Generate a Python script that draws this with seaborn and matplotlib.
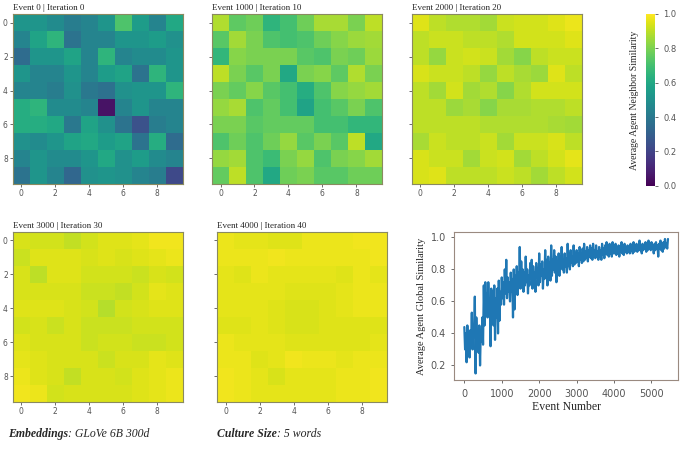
import numpy as np
import matplotlib
matplotlib.use("Agg")
import matplotlib.pyplot as plt
import seaborn as sns

sns.set_theme(style="white")
plt.rcParams["font.family"] = ["DejaVu Sans"]

SERIF = "Liberation Serif"
TICK_COLOR = "#555555"

# --- data: neighbour similarity grids (10x10) at five snapshots ---
titles = ["Event 0 | Iteration 0", "Event 1000 | Iteration 10", "Event 2000 | Iteration 20",
          "Event 3000 | Iteration 30", "Event 4000 | Iteration 40"]

grid_0 = [
    [0.52, 0.52, 0.48, 0.42, 0.45, 0.52, 0.72, 0.55, 0.45, 0.60],
    [0.45, 0.58, 0.65, 0.38, 0.45, 0.45, 0.52, 0.52, 0.55, 0.50],
    [0.35, 0.52, 0.52, 0.58, 0.45, 0.65, 0.45, 0.48, 0.48, 0.52],
    [0.52, 0.45, 0.45, 0.52, 0.45, 0.55, 0.58, 0.38, 0.65, 0.52],
    [0.45, 0.45, 0.42, 0.50, 0.40, 0.37, 0.50, 0.52, 0.52, 0.65],
    [0.62, 0.65, 0.48, 0.48, 0.45, 0.05, 0.45, 0.52, 0.45, 0.45],
    [0.62, 0.62, 0.60, 0.40, 0.58, 0.50, 0.38, 0.25, 0.42, 0.45],
    [0.50, 0.48, 0.52, 0.58, 0.60, 0.55, 0.58, 0.38, 0.62, 0.35],
    [0.45, 0.52, 0.48, 0.48, 0.52, 0.60, 0.50, 0.55, 0.48, 0.45],
    [0.38, 0.52, 0.45, 0.33, 0.50, 0.52, 0.50, 0.45, 0.42, 0.22],
]
grid_1000 = [
    [0.88, 0.75, 0.78, 0.65, 0.70, 0.78, 0.87, 0.87, 0.80, 0.90],
    [0.74, 0.86, 0.80, 0.72, 0.70, 0.72, 0.78, 0.82, 0.85, 0.86],
    [0.66, 0.82, 0.80, 0.80, 0.80, 0.74, 0.72, 0.80, 0.78, 0.85],
    [0.90, 0.80, 0.74, 0.80, 0.60, 0.80, 0.82, 0.75, 0.88, 0.80],
    [0.80, 0.76, 0.82, 0.74, 0.70, 0.62, 0.72, 0.82, 0.84, 0.86],
    [0.84, 0.87, 0.72, 0.76, 0.70, 0.58, 0.70, 0.74, 0.80, 0.72],
    [0.80, 0.80, 0.74, 0.76, 0.76, 0.76, 0.70, 0.70, 0.66, 0.66],
    [0.72, 0.78, 0.72, 0.78, 0.84, 0.74, 0.80, 0.74, 0.90, 0.60],
    [0.84, 0.86, 0.72, 0.68, 0.80, 0.84, 0.72, 0.80, 0.82, 0.86],
    [0.76, 0.90, 0.72, 0.60, 0.78, 0.80, 0.74, 0.74, 0.78, 0.78],
]
grid_2000 = [
    [0.95, 0.90, 0.88, 0.88, 0.86, 0.92, 0.93, 0.93, 0.95, 0.97],
    [0.90, 0.92, 0.92, 0.90, 0.90, 0.88, 0.93, 0.93, 0.93, 0.95],
    [0.90, 0.84, 0.92, 0.93, 0.92, 0.86, 0.82, 0.90, 0.92, 0.92],
    [0.94, 0.92, 0.92, 0.90, 0.84, 0.90, 0.87, 0.85, 0.95, 0.90],
    [0.90, 0.86, 0.93, 0.86, 0.88, 0.82, 0.88, 0.93, 0.93, 0.93],
    [0.90, 0.90, 0.85, 0.87, 0.82, 0.87, 0.87, 0.88, 0.88, 0.90],
    [0.90, 0.90, 0.90, 0.90, 0.88, 0.88, 0.88, 0.88, 0.87, 0.86],
    [0.87, 0.92, 0.90, 0.90, 0.92, 0.86, 0.92, 0.92, 0.94, 0.90],
    [0.94, 0.92, 0.92, 0.86, 0.92, 0.93, 0.86, 0.90, 0.93, 0.96],
    [0.94, 0.95, 0.90, 0.90, 0.90, 0.92, 0.90, 0.86, 0.90, 0.93],
]
grid_3000 = [
    [0.94, 0.93, 0.93, 0.91, 0.93, 0.95, 0.95, 0.96, 0.98, 0.98],
    [0.92, 0.95, 0.95, 0.95, 0.94, 0.95, 0.94, 0.95, 0.96, 0.97],
    [0.94, 0.90, 0.95, 0.95, 0.93, 0.93, 0.93, 0.92, 0.94, 0.93],
    [0.94, 0.94, 0.94, 0.94, 0.92, 0.92, 0.91, 0.93, 0.96, 0.95],
    [0.95, 0.95, 0.95, 0.94, 0.93, 0.89, 0.93, 0.94, 0.95, 0.95],
    [0.93, 0.94, 0.92, 0.94, 0.92, 0.92, 0.92, 0.93, 0.93, 0.93],
    [0.95, 0.94, 0.94, 0.94, 0.92, 0.93, 0.93, 0.92, 0.92, 0.93],
    [0.96, 0.95, 0.94, 0.94, 0.94, 0.92, 0.94, 0.94, 0.96, 0.95],
    [0.97, 0.95, 0.94, 0.91, 0.94, 0.94, 0.93, 0.95, 0.96, 0.97],
    [0.98, 0.97, 0.93, 0.94, 0.94, 0.94, 0.94, 0.95, 0.96, 0.97],
]
grid_4000 = [
    [0.97, 0.96, 0.96, 0.95, 0.95, 0.97, 0.97, 0.97, 0.98, 0.98],
    [0.97, 0.97, 0.97, 0.98, 0.97, 0.97, 0.97, 0.97, 0.97, 0.98],
    [0.96, 0.95, 0.97, 0.96, 0.96, 0.96, 0.96, 0.95, 0.97, 0.96],
    [0.96, 0.96, 0.96, 0.96, 0.95, 0.95, 0.95, 0.96, 0.97, 0.97],
    [0.96, 0.96, 0.96, 0.95, 0.94, 0.94, 0.95, 0.96, 0.97, 0.97],
    [0.95, 0.95, 0.96, 0.95, 0.94, 0.94, 0.95, 0.95, 0.95, 0.95],
    [0.97, 0.96, 0.96, 0.96, 0.95, 0.95, 0.95, 0.95, 0.95, 0.96],
    [0.97, 0.97, 0.95, 0.96, 0.98, 0.97, 0.97, 0.96, 0.97, 0.97],
    [0.98, 0.97, 0.96, 0.94, 0.96, 0.96, 0.96, 0.97, 0.97, 0.98],
    [0.98, 0.97, 0.96, 0.96, 0.96, 0.96, 0.96, 0.97, 0.97, 0.98],
]
grids = [grid_0, grid_1000, grid_2000, grid_3000, grid_4000]

# --- data: global similarity, sampled every 20 events ---
event_step = 20
global_sim = [
    0.44, 0.30, 0.40, 0.22, 0.45, 0.33, 0.38, 0.25, 0.42, 0.35,
    0.53, 0.30, 0.45, 0.38, 0.63, 0.15, 0.50, 0.32, 0.40, 0.28,
    0.45, 0.20, 0.42, 0.35, 0.50, 0.33, 0.70, 0.45, 0.72, 0.55,
    0.65, 0.50, 0.72, 0.58, 0.62, 0.32, 0.68, 0.55, 0.66, 0.45,
    0.70, 0.36, 0.62, 0.50, 0.68, 0.40, 0.73, 0.48, 0.66, 0.58,
    0.75, 0.62, 0.72, 0.58, 0.80, 0.65, 0.86, 0.62, 0.75, 0.66,
    0.72, 0.60, 0.78, 0.66, 0.74, 0.50, 0.80, 0.55, 0.76, 0.68,
    0.82, 0.64, 0.78, 0.70, 0.94, 0.68, 0.85, 0.72, 0.80, 0.66,
    0.78, 0.70, 0.88, 0.72, 0.80, 0.65, 0.76, 0.70, 0.84, 0.74,
    0.86, 0.68, 0.82, 0.74, 0.78, 0.66, 0.84, 0.75, 0.80, 0.70,
    0.90, 0.72, 0.83, 0.76, 0.85, 0.68, 0.80, 0.74, 0.92, 0.76,
    0.86, 0.70, 0.88, 0.78, 0.84, 0.73, 0.95, 0.76, 0.86, 0.80,
    0.92, 0.78, 0.88, 0.72, 0.85, 0.80, 0.90, 0.76, 0.88, 0.82,
    0.94, 0.80, 0.86, 0.78, 0.90, 0.82, 0.87, 0.78, 0.96, 0.82,
    0.90, 0.80, 0.92, 0.84, 0.88, 0.82, 0.95, 0.83, 0.90, 0.84,
    0.92, 0.85, 0.90, 0.82, 0.94, 0.86, 0.90, 0.84, 0.93, 0.85,
    0.96, 0.86, 0.91, 0.87, 0.94, 0.85, 0.92, 0.88, 0.95, 0.87,
    0.93, 0.86, 0.96, 0.88, 0.92, 0.87, 0.95, 0.88, 0.91, 0.86,
    0.94, 0.88, 0.92, 0.86, 0.96, 0.89, 0.93, 0.87, 0.95, 0.90,
    0.97, 0.89, 0.93, 0.88, 0.96, 0.90, 0.94, 0.88, 0.97, 0.90,
    0.94, 0.90, 0.96, 0.89, 0.93, 0.90, 0.95, 0.88, 0.94, 0.91,
    0.97, 0.90, 0.94, 0.89, 0.96, 0.91, 0.93, 0.90, 0.95, 0.91,
    0.93, 0.90, 0.96, 0.92, 0.94, 0.90, 0.97, 0.91, 0.94, 0.92,
    0.96, 0.91, 0.95, 0.92, 0.98, 0.92, 0.94, 0.90, 0.96, 0.92,
    0.95, 0.93, 0.97, 0.91, 0.95, 0.92, 0.98, 0.93, 0.95, 0.92,
    0.97, 0.93, 0.95, 0.90, 0.96, 0.92, 0.97, 0.93, 0.95, 0.88,
    0.96, 0.93, 0.98, 0.92, 0.95, 0.91, 0.97, 0.93, 0.99, 0.94,
    0.96, 0.93, 0.99,
]
events = np.arange(len(global_sim)) * event_step

fig = plt.figure(figsize=(6.85, 4.51), dpi=100)

# heatmap axes positions (fig fraction)
hm_pos = [
    [0.0185, 0.592, 0.248, 0.377],
    [0.3095, 0.592, 0.248, 0.377],
    [0.601, 0.592, 0.248, 0.377],
    [0.0185, 0.109, 0.248, 0.377],
    [0.317, 0.109, 0.248, 0.377],
]
show_ylabels = [True, False, False, True, False]
cbar_ax = fig.add_axes([0.943, 0.588, 0.013, 0.381])

for i, (grid, title, pos) in enumerate(zip(grids, titles, hm_pos)):
    ax = fig.add_axes(pos)
    draw_cbar = i == 2
    sns.heatmap(np.array(grid), ax=ax, cmap="viridis", vmin=0, vmax=1, square=True,
                cbar=draw_cbar, cbar_ax=cbar_ax if draw_cbar else None,
                xticklabels=False, yticklabels=False)
    ax.set_xticks(np.arange(0, 10, 2) + 0.5)
    ax.set_xticklabels([str(t) for t in range(0, 10, 2)])
    ax.set_yticks(np.arange(0, 10, 2) + 0.5)
    ax.set_yticklabels([str(t) for t in range(0, 10, 2)] if show_ylabels[i] else [])
    ax.tick_params(axis="both", labelsize=5.5, colors=TICK_COLOR, length=2, width=0.6,
                   pad=1.5, bottom=True, left=True, labelrotation=0)
    for s in ax.spines.values():
        s.set_visible(True)
        s.set_color("#8a8a60")
        s.set_linewidth(0.8)
    ax.set_title(title, fontsize=6.5, family=SERIF, loc="left", pad=3)

cbar_ax.tick_params(labelsize=6, colors=TICK_COLOR, length=2.5, width=0.6)
cbar_ax.set_yticks([0.0, 0.2, 0.4, 0.6, 0.8, 1.0])
cbar_ax.set_yticklabels(["0.0", "0.2", "0.4", "0.6", "0.8", "1.0"])
cbar_ax.yaxis.set_label_position("left")
cbar_ax.set_ylabel("Average Agent Neighbor Similarity", family=SERIF, fontsize=7, labelpad=5)

# global similarity line
lax = fig.add_axes([0.663, 0.157, 0.327, 0.328])
sns.lineplot(x=events, y=global_sim, ax=lax, color="#1f77b4", linewidth=1.6)
lax.set_xticks([0, 1000, 2000, 3000, 4000, 5000])
lax.set_yticks([0.2, 0.4, 0.6, 0.8, 1.0])
lax.tick_params(labelsize=7, colors=TICK_COLOR, length=2.5, width=0.6, bottom=True, left=True)
for s in lax.spines.values():
    s.set_color("#9a8a80")
    s.set_linewidth(0.8)
lax.set_xlabel("Event Number", family=SERIF, fontsize=8.5, labelpad=2)
lax.set_ylabel("Average Agent Global Similarity", family=SERIF, fontsize=7.5, labelpad=3)

# captions: bold-italic key followed by italic value
renderer = fig.canvas.get_renderer()


def caption(x, key, value):
    t = fig.text(x, 0.03, key, family=SERIF, fontsize=8.5, fontweight="bold", style="italic")
    bb = t.get_window_extent(renderer=renderer)
    x2 = bb.x1 / fig.bbox.width
    fig.text(x2, 0.03, ": " + value, family=SERIF, fontsize=8.5, style="italic")


caption(0.012, "Embeddings", "GLoVe 6B 300d")
caption(0.317, "Culture Size", "5 words")

fig.savefig("out.png", dpi=100)
plt.close(fig)
